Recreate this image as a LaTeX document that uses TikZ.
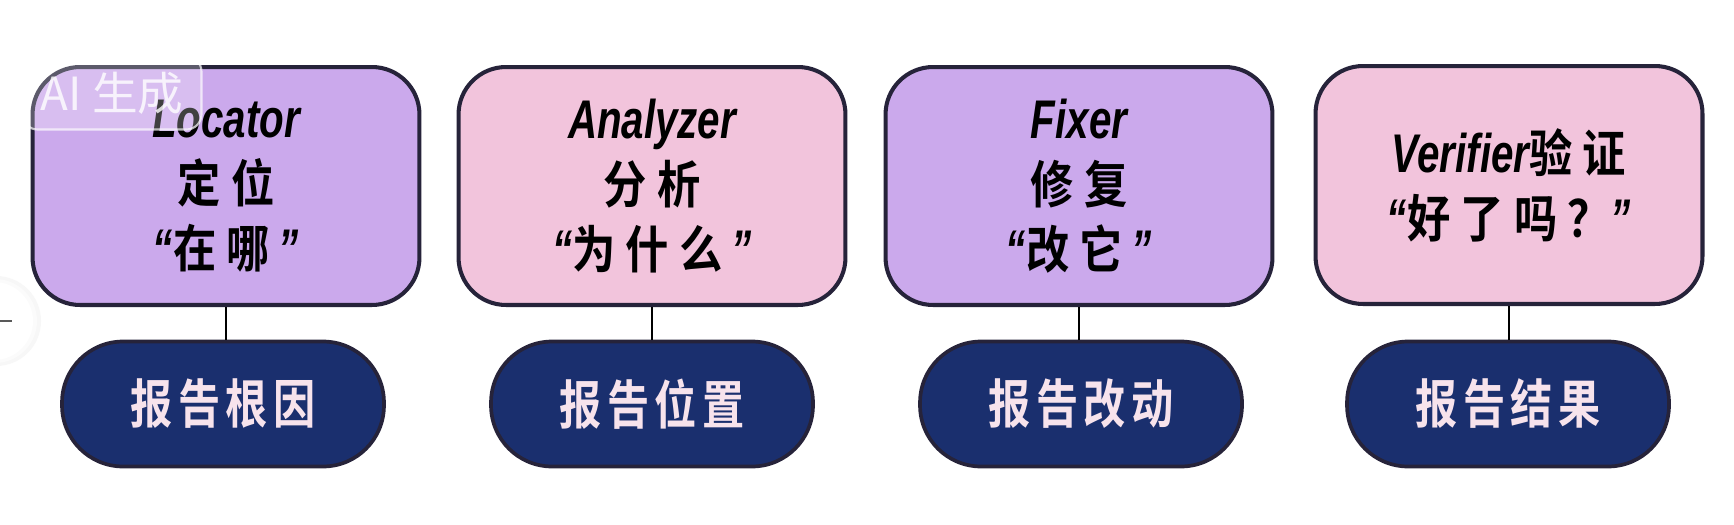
\documentclass[tikz,border=0pt]{standalone}
\usepackage{fontspec}
\newfontfamily\latinf{Liberation Sans}[FakeStretch=0.74]
\newfontfamily\cjk{Noto Sans CJK SC Bold}[FakeStretch=0.85]
\newfontfamily\cjkp{Noto Sans CJK SC Bold}[FakeStretch=0.8]
\newfontfamily\wmfont{Noto Sans CJK SC}
\newcommand\lat[1]{{\latinf\bfseries\itshape\fontsize{31}{37}\selectfont #1}}
\newcommand\cg{\hspace{0.2em}}
\newcommand\pg{\hspace{0.1em}}
\definecolor{lav}{HTML}{CBA9EC}
\definecolor{pnk}{HTML}{F2C4DC}
\definecolor{navy}{HTML}{1A2F6E}
\definecolor{edge}{HTML}{26233A}
\definecolor{pilltext}{HTML}{F7E3EC}
\definecolor{bg}{HTML}{FFFFFF}
\tikzset{
  box/.style={draw=edge, line width=2.3pt, rounded corners=0.95cm,
    minimum width=7.74cm, minimum height=4.76cm, align=center,
    font=\fontsize{29}{37}\selectfont, text=black},
  pill/.style={draw=edge, line width=2.1pt, fill=navy, rounded corners=1.22cm,
    minimum width=6.44cm, minimum height=2.5cm, text=pilltext,
    font=\cjkp\fontsize{30}{36}\selectfont},
  link/.style={draw=black, line width=1.5pt}
}
\begin{document}
\begin{tikzpicture}[x=0.02cm, y=-0.02cm]
\useasboundingbox (0,0) rectangle (1734,524);
\fill[bg] (0,0) rectangle (1734,524);

\node[box, fill=lav] (b1) at (226,186) {\lat{Locator}\\{\cjk 定\cg 位}\\\lat{“}{\cjk 在\cg 哪}\lat{\,”}};
\node[box, fill=pnk] (b2) at (652,186) {\lat{Analyzer}\\{\cjk 分\cg 析}\\\lat{“}{\cjk 为\cg 什\cg 么}\lat{\,”}};
\node[box, fill=lav] (b3) at (1079,186) {\lat{Fixer}\\{\cjk 修\cg 复}\\\lat{“}{\cjk 改\cg 它}\lat{\,”}};
\node[box, fill=pnk] (b4) at (1509,185) {\lat{Verifier}{\cjk 验\cg 证}\\\lat{“}{\cjk 好\cg 了\cg 吗\cg ？}\lat{”}};

\node[pill] (p1) at (223,404) {报\pg 告\pg 根\pg 因};
\node[pill] (p2) at (652,404) {报\pg 告\pg 位\pg 置};
\node[pill] (p3) at (1081,404) {报\pg 告\pg 改\pg 动};
\node[pill] (p4) at (1508,404) {报\pg 告\pg 结\pg 果};

\draw[link] (b1.south) -- (p1.north -| b1.south);
\draw[link] (b2.south) -- (p2.north);
\draw[link] (b3.south) -- (p3.north -| b3.south);
\draw[link] (b4.south) -- (p4.north -| b4.south);

% watermark
\node[draw=white, draw opacity=0.7, line width=1.2pt, fill=white, fill opacity=0.25,
  text opacity=0.8, text=white, rounded corners=0.3cm, minimum width=3.58cm,
  minimum height=1.46cm, font=\wmfont\fontsize{26}{30}\selectfont] (wm) at (112,93) {AI 生成};

% left edge UI circle
\fill[gray!6] (-4,321) circle (45);
\fill[gray!3] (-5,321) circle (42);
\fill[white] (-6,321) circle (39);
\coordinate (d1) at (0,321);
\coordinate (d2) at (12,321);
\draw[gray!70!black, line width=0.8pt] (d1) -- (d2);
\end{tikzpicture}
\end{document}
